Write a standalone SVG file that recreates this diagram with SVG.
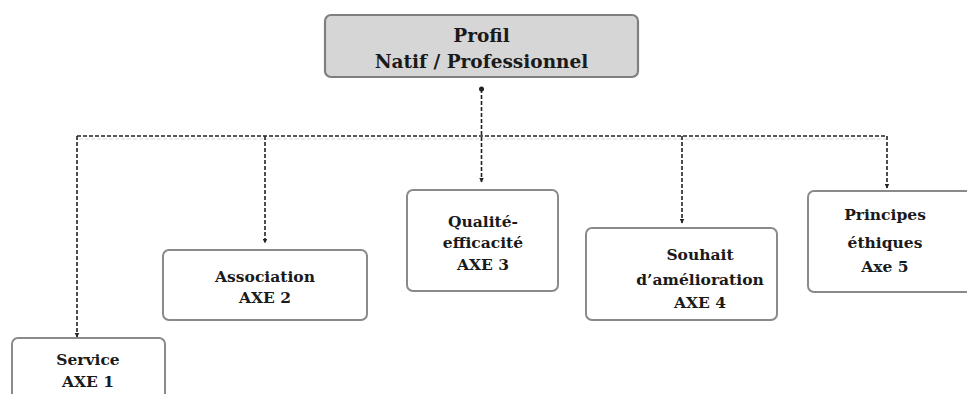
<svg xmlns="http://www.w3.org/2000/svg" width="967" height="394" viewBox="0 0 967 394">
<style>
.box{fill:#ffffff;stroke:#8a8a8a;stroke-width:2}
.top{fill:#d6d6d6;stroke:#7f7f7f;stroke-width:2.2}
.lbl{font-family:"DejaVu Serif","Liberation Serif",serif;font-weight:bold;font-size:15.5px;fill:#1a1a1a;text-anchor:middle}
.ttl{font-size:18.5px}
.dash{fill:none;stroke:#222;stroke-width:1.6;stroke-dasharray:4 2}
.shadow{fill:none;stroke:#d8d8d8;stroke-width:1.2;stroke-dasharray:4 2}
</style>
<defs>
<marker id="arr" viewBox="0 0 10 10" refX="9" refY="5" markerWidth="5" markerHeight="5" orient="auto" markerUnits="userSpaceOnUse">
<path d="M0,0 L10,5 L0,10 z" fill="#222"/>
</marker>
</defs>
<g id="connectors">
<path class="shadow" d="M79,139 H887"/>
<path class="dash" d="M77,136 H887"/>
<circle cx="481.5" cy="89" r="2.5" fill="#222"/>
<path class="dash" d="M481.5,89 V182" marker-end="url(#arr)"/>
<path class="dash" d="M77,136 V337" marker-end="url(#arr)"/>
<path class="dash" d="M265,136 V243" marker-end="url(#arr)"/>
<path class="dash" d="M682,136 V223" marker-end="url(#arr)"/>
<path class="dash" d="M887,136 V188" marker-end="url(#arr)"/>
</g>
<g id="profil">
<rect class="top" x="325" y="15" width="313" height="62" rx="6"/>
<text class="lbl ttl" x="481.5" y="42">Profil</text>
<text class="lbl ttl" x="481.5" y="68">Natif / Professionnel</text>
</g>
<g id="axe1">
<rect class="box" x="12" y="338" width="153" height="70" rx="6"/>
<text class="lbl" x="88" y="365">Service</text>
<text class="lbl" x="88" y="387">AXE 1</text>
</g>
<g id="axe2">
<rect class="box" x="163" y="250" width="204" height="70" rx="6"/>
<text class="lbl" x="265" y="282">Association</text>
<text class="lbl" x="265" y="303">AXE 2</text>
</g>
<g id="axe3">
<rect class="box" x="407" y="190" width="151" height="101" rx="6"/>
<text class="lbl" x="483" y="227">Qualité-</text>
<text class="lbl" x="483" y="248">efficacité</text>
<text class="lbl" x="483" y="270">AXE 3</text>
</g>
<g id="axe4">
<rect class="box" x="586" y="228" width="191" height="92" rx="6"/>
<text class="lbl" x="700" y="260">Souhait</text>
<text class="lbl" x="700" y="285">d’amélioration</text>
<text class="lbl" x="700" y="308">AXE 4</text>
</g>
<g id="axe5">
<rect class="box" x="808" y="191" width="170" height="101" rx="6"/>
<text class="lbl" x="885" y="220">Principes</text>
<text class="lbl" x="885" y="248">éthiques</text>
<text class="lbl" x="885" y="272">Axe 5</text>
</g>
</svg>
